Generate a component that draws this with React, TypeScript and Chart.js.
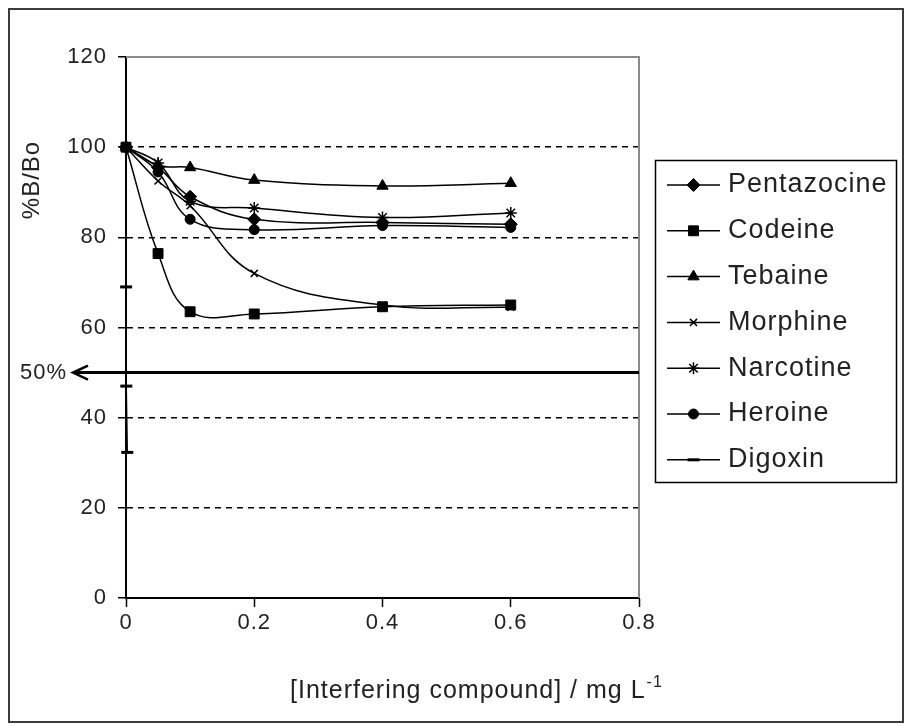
import { useEffect, useRef } from 'react';
import { Chart, registerables } from 'chart.js';
import { drawPoint } from 'chart.js/helpers';

Chart.register(...registerables);

// Interfering compound concentrations (mg/L)
const concentrations = [0, 0.05, 0.1, 0.2, 0.4, 0.6];
const pentazocine = [100, 95.5, 89, 84, 83.3, 82.9];
const codeine = [100, 76.4, 63.5, 63, 64.6, 65];
const tebaine = [100, 96, 95.5, 92.7, 91.4, 92];
const morphine = [100, 92.5, 87, 72, 65, 64.5];
const narcotine = [100, 96.5, 88, 86.5, 84.4, 85.4];
const heroine = [100, 94.5, 84, 81.7, 82.6, 82.2];

// Digoxin drops almost vertically at very low concentrations
const digoxinConcentrations = [0, 0.0002, 0.0005, 0.002];
const digoxin = [100, 69, 47, 32.3];

const seriesNames = ['Pentazocine', 'Codeine', 'Tebaine', 'Morphine', 'Narcotine', 'Heroine', 'Digoxin'];

const yTickValues = [0, 20, 40, 60, 80, 100, 120];
const xTickValues = [0, 0.2, 0.4, 0.6, 0.8];

// 50 % binding level marked with an arrow
const halfBinding = 50;

const FONT = '"Liberation Sans", Arial, Helvetica, sans-serif';
const TEXT = '#222';

const markerStyles = [
  { pointStyle: 'rectRot', pointRadius: 6.5, pointBorderWidth: 1 },
  { pointStyle: 'rect', pointRadius: 7, pointBorderWidth: 1 },
  { pointStyle: 'triangle', pointRadius: 6.5, pointBorderWidth: 1 },
  { pointStyle: 'crossRot', pointRadius: 5, pointBorderWidth: 1.5 },
  { pointStyle: 'star', pointRadius: 6, pointBorderWidth: 1.5 },
  { pointStyle: 'circle', pointRadius: 5, pointBorderWidth: 1 },
  { pointStyle: 'line', pointRadius: 6, pointBorderWidth: 3 },
];

const toPoints = (xs: number[], ys: number[]) => xs.map((x, i) => ({ x, y: ys[i] }));

const seriesValues = [pentazocine, codeine, tebaine, morphine, narcotine, heroine];

const decorations = {
  id: 'decorations',
  beforeDraw(chart: any) {
    const ctx = chart.ctx as CanvasRenderingContext2D;
    ctx.save();
    ctx.fillStyle = '#fff';
    ctx.fillRect(0, 0, chart.width, chart.height);
    ctx.restore();
    (ctx as any).letterSpacing = '1px';
  },
  afterDraw(chart: any) {
    const ctx = chart.ctx as CanvasRenderingContext2D;
    const a = chart.chartArea;
    const yScale = chart.scales.y;
    ctx.save();

    // outer frame
    ctx.strokeStyle = '#3c3c3c';
    ctx.lineWidth = 2;
    ctx.strokeRect(9, 9, 894, 713);

    // grey plot-area border (top and right)
    ctx.strokeStyle = '#8a8a8a';
    ctx.lineWidth = 2;
    ctx.beginPath();
    ctx.moveTo(a.left, a.top);
    ctx.lineTo(a.right, a.top);
    ctx.lineTo(a.right, a.bottom);
    ctx.stroke();

    // 50 % arrow
    const ay = yScale.getPixelForValue(halfBinding);
    const tipX = a.left - 53;
    ctx.strokeStyle = '#000';
    ctx.lineWidth = 3;
    ctx.beginPath();
    ctx.moveTo(a.right, ay);
    ctx.lineTo(tipX + 1, ay);
    ctx.stroke();
    ctx.lineWidth = 2.5;
    ctx.beginPath();
    ctx.moveTo(tipX + 15, ay - 7);
    ctx.lineTo(tipX, ay);
    ctx.lineTo(tipX + 15, ay + 7);
    ctx.stroke();

    ctx.fillStyle = TEXT;
    ctx.font = `22px ${FONT}`;
    ctx.textAlign = 'right';
    ctx.textBaseline = 'middle';
    ctx.fillText('50%', tipX - 6, ay);

    // y-axis title
    ctx.save();
    ctx.translate(32, 180);
    ctx.rotate(-Math.PI / 2);
    ctx.font = `24px ${FONT}`;
    ctx.textAlign = 'center';
    ctx.textBaseline = 'middle';
    ctx.fillText('%B/Bo', 0, 0);
    ctx.restore();

    // x-axis title with superscript unit
    const main = '[Interfering compound] / mg L';
    ctx.font = `25px ${FONT}`;
    ctx.textAlign = 'left';
    ctx.textBaseline = 'alphabetic';
    const tx = 290;
    const ty = a.bottom + 100;
    ctx.fillText(main, tx, ty);
    const w = ctx.measureText(main).width;
    ctx.font = `16px ${FONT}`;
    ctx.fillText('-1', tx + w + 1, ty - 11);

    // legend
    const lx = 655;
    const ly = 160;
    ctx.strokeStyle = '#000';
    ctx.lineWidth = 1.5;
    ctx.strokeRect(lx + 0.5, ly + 0.5, 241, 322);
    ctx.font = `27px ${FONT}`;
    ctx.textAlign = 'left';
    ctx.textBaseline = 'middle';
    chart.data.datasets.forEach((ds: any, i: number) => {
      const ry = ly + 25 + i * 45.8;
      ctx.strokeStyle = '#000';
      ctx.lineWidth = 1.5;
      ctx.beginPath();
      ctx.moveTo(lx + 12, ry);
      ctx.lineTo(lx + 65, ry);
      ctx.stroke();
      ctx.fillStyle = '#000';
      ctx.lineWidth = ds.pointBorderWidth;
      drawPoint(ctx, {
        pointStyle: ds.pointStyle,
        radius: ds.pointRadius,
        rotation: 0,
        borderWidth: ds.pointBorderWidth,
      } as any, lx + 38.5, ry);
      ctx.fillStyle = TEXT;
      ctx.fillText(ds.label, lx + 73, ry);
    });

    ctx.restore();
    (ctx as any).letterSpacing = '0px';
  },
};

export default function App() {
  const ref = useRef<HTMLCanvasElement>(null);

  useEffect(() => {
    const datasets = seriesNames.map((name, i) => {
      const isDigoxin = i === seriesValues.length;
      return {
        label: name,
        data: isDigoxin ? toPoints(digoxinConcentrations, digoxin) : toPoints(concentrations, seriesValues[i]),
        borderColor: '#000',
        backgroundColor: '#000',
        pointBackgroundColor: '#000',
        pointBorderColor: '#000',
        borderWidth: 1.5,
        tension: isDigoxin ? 0 : 0.4,
        clip: false as any,
        ...markerStyles[i],
      };
    });

    const chart = new Chart(ref.current!, {
      type: 'line',
      data: { datasets: datasets as any },
      plugins: [decorations],
      options: {
        responsive: false,
        animation: false,
        events: [],
        layout: { padding: { left: 0, top: 57, right: 268, bottom: 0 } },
        plugins: { legend: { display: false }, tooltip: { enabled: false } },
        scales: {
          x: {
            type: 'linear',
            min: xTickValues[0],
            max: xTickValues[xTickValues.length - 1],
            afterBuildTicks: (s: any) => { s.ticks = xTickValues.map((v) => ({ value: v })); },
            afterFit: (s: any) => { s.height = 128; },
            grid: { drawOnChartArea: false, tickLength: 9, tickColor: '#000', tickWidth: 1.5 },
            border: { color: '#000', width: 2 },
            ticks: {
              color: TEXT,
              font: { family: FONT, size: 22 },
              padding: 3,
              maxRotation: 0,
              callback: (v: any) => String(Math.round(Number(v) * 10) / 10),
            },
          },
          y: {
            type: 'linear',
            min: yTickValues[0],
            max: yTickValues[yTickValues.length - 1],
            afterBuildTicks: (s: any) => { s.ticks = yTickValues.map((v) => ({ value: v })); },
            afterFit: (s: any) => { s.width = 126; },
            grid: {
              color: (c: any) => (c.tick && (c.tick.value === 0 || c.tick.value === 120) ? 'rgba(0,0,0,0)' : '#000'),
              lineWidth: 1.5,
              tickLength: 8,
              tickColor: '#000',
              tickWidth: 1.5,
            },
            border: { color: '#000', width: 2, dash: [6, 5] },
            ticks: {
              color: TEXT,
              font: { family: FONT, size: 22 },
              padding: 11,
              callback: (v: any) => String(v),
            },
          },
        },
      } as any,
    });
    return () => chart.destroy();
  }, []);

  return (
    <div style={{ position: 'fixed', left: 0, top: 0, width: 907, height: 726, background: '#fff' }}>
      <canvas ref={ref} width={907} height={726} style={{ display: 'block', width: 907, height: 726 }} />
    </div>
  );
}
